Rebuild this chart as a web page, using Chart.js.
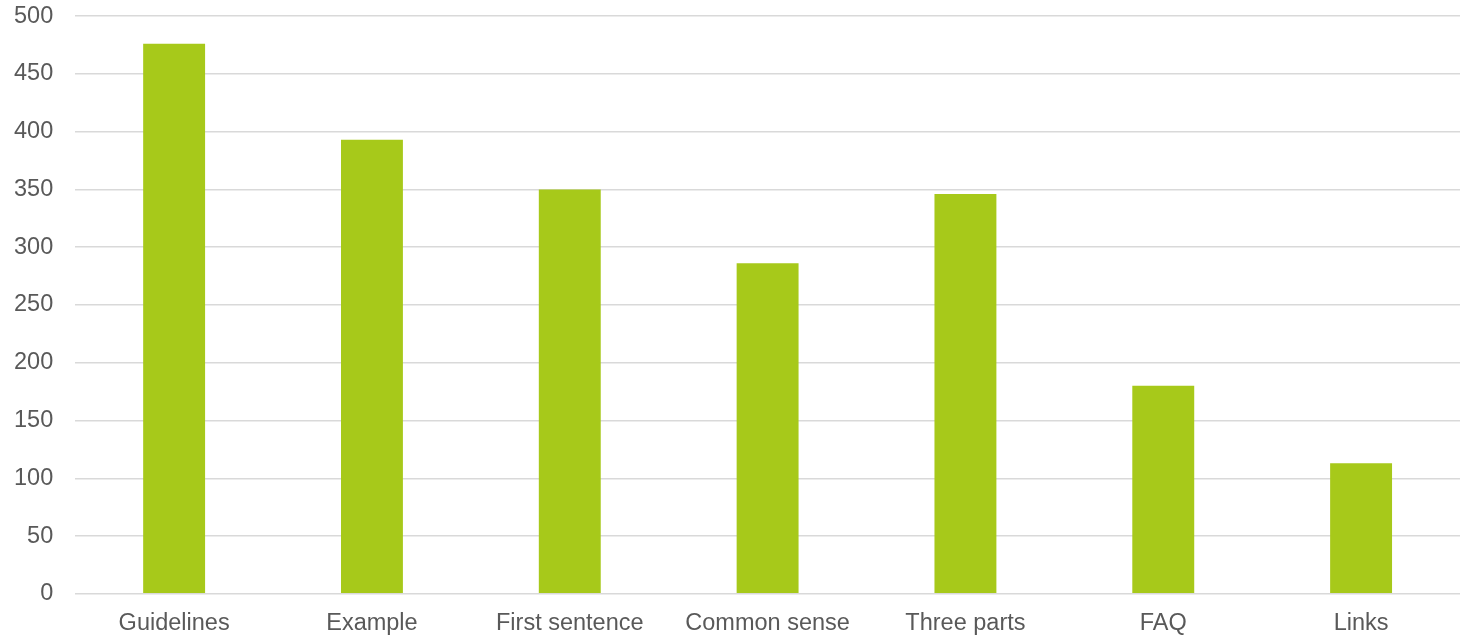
<!DOCTYPE html>
<html>
<head>
<meta charset="utf-8">
<script src="https://cdn.jsdelivr.net/npm/chart.js@4"></script>
<style>
  html, body { margin: 0; padding: 0; background: #fff; overflow: hidden; }
  #frame { width: 1468px; height: 635px; overflow: hidden; }
  #wrap { width: 1468px; height: 666px; margin-top: -20px; }
</style>
</head>
<body>
<div id="frame"><div id="wrap"><canvas id="barChart"></canvas></div></div>
<script>
// categories and counts
const categories = ["Guidelines", "Example", "First sentence", "Common sense", "Three parts", "FAQ", "Links"];
const counts = [476, 393, 350, 286, 346, 180, 113];
const yTicks = [0, 50, 100, 150, 200, 250, 300, 350, 400, 450, 500];

const textColor = "#595959";
const gridColor = "#d9d9d9";

new Chart(document.getElementById("barChart"), {
  type: "bar",
  data: {
    labels: categories,
    datasets: [
      {
        data: counts,
        backgroundColor: "#a7c91a",
        categoryPercentage: 1,
        barPercentage: 0.313,
      },
    ],
  },
  options: {
    responsive: true,
    maintainAspectRatio: false,
    animation: false,
    layout: { padding: { top: 8, right: 8, left: -8, bottom: 0 } },
    plugins: {
      legend: { display: false },
      tooltip: { enabled: false },
    },
    scales: {
      x: {
        grid: { display: false },
        border: { display: false },
        ticks: {
          color: textColor,
          font: { family: "Liberation Sans, Arial", size: 23.5 },
          padding: 8,
          maxRotation: 0,
        },
      },
      y: {
        min: 0,
        max: 500,
        afterBuildTicks: (axis) => {
          axis.ticks = yTicks.map((v) => ({ value: v }));
        },
        grid: { color: gridColor, lineWidth: 1.5, drawTicks: false },
        border: { display: false },
        ticks: {
          color: textColor,
          font: { family: "Liberation Sans, Arial", size: 23.5 },
          padding: 22,
        },
      },
    },
  },
});
</script>
</body>
</html>
